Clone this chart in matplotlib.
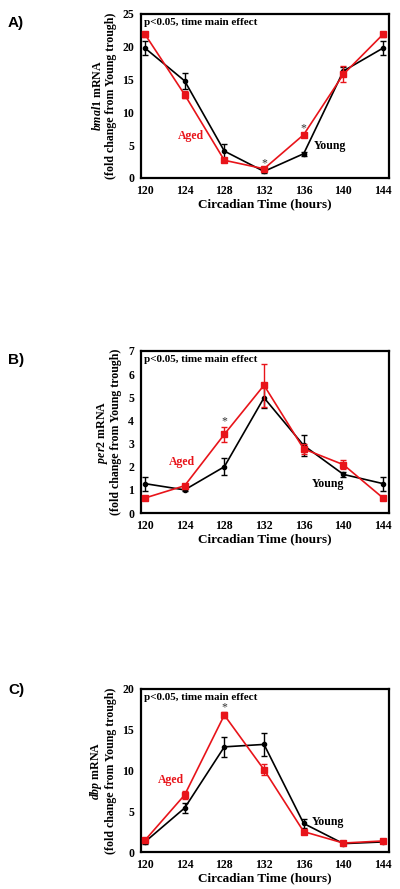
import matplotlib
matplotlib.use("Agg")
import matplotlib.pyplot as plt

plt.rcParams["mathtext.fontset"] = "custom"
plt.rcParams["mathtext.it"] = "Liberation Serif:italic:bold"
plt.rcParams["mathtext.rm"] = "Liberation Serif:bold"
plt.rcParams["mathtext.bf"] = "Liberation Serif:bold"

hours = [120, 124, 128, 132, 136, 140, 144]

bmal1_young = [19.8, 14.8, 4.1, 1.0, 3.7, 16.3, 19.8]
bmal1_young_err = [1.1, 1.2, 1.1, 0.2, 0.3, 0.6, 1.1]
bmal1_aged = [21.9, 12.7, 2.7, 1.4, 6.6, 15.8, 21.9]
bmal1_aged_err = [0.4, 0.5, 0.2, 0.2, 0.3, 1.2, 0.4]

per2_young = [1.27, 1.0, 2.0, 4.98, 2.92, 1.67, 1.27]
per2_young_err = [0.3, 0.05, 0.37, 0.45, 0.47, 0.12, 0.3]
per2_aged = [0.65, 1.18, 3.4, 5.52, 2.77, 2.09, 0.65]
per2_aged_err = [0.05, 0.07, 0.33, 0.93, 0.22, 0.2, 0.05]

dbp_young = [1.24, 5.4, 12.9, 13.2, 3.5, 1.03, 1.24]
dbp_young_err = [0.2, 0.6, 1.25, 1.45, 0.6, 0.1, 0.1]
dbp_aged = [1.44, 7.0, 16.8, 10.1, 2.5, 1.1, 1.36]
dbp_aged_err = [0.2, 0.5, 0.4, 0.7, 0.2, 0.1, 0.2]

panels = [
    dict(label="A)", gene="bmal1", young=bmal1_young, yerr=bmal1_young_err,
         aged=bmal1_aged, aerr=bmal1_aged_err, ymax=25, yticks=[0, 5, 10, 15, 20, 25],
         stars=[(132, 2.3), (136, 7.6)], aged_txt=(123.3, 6.4), young_txt=(137.0, 4.9),
         rect=[0.3525, 0.7998, 0.62, 0.1845], lab_y=0.974),
    dict(label="B)", gene="per2", young=per2_young, yerr=per2_young_err,
         aged=per2_aged, aerr=per2_aged_err, ymax=7, yticks=[0, 1, 2, 3, 4, 5, 6, 7],
         stars=[(128, 3.95)], aged_txt=(122.4, 2.2), young_txt=(136.8, 1.27),
         rect=[0.3525, 0.4229, 0.62, 0.1823], lab_y=0.595),
    dict(label="C)", gene="dbp", young=dbp_young, yerr=dbp_young_err,
         aged=dbp_aged, aerr=dbp_aged_err, ymax=20, yticks=[0, 5, 10, 15, 20],
         stars=[(128, 17.8)], aged_txt=(121.3, 8.8), young_txt=(136.8, 3.7),
         rect=[0.3525, 0.0416, 0.62, 0.1834], lab_y=0.224),
]

serif = "Liberation Serif"
fig = plt.figure(figsize=(4.0, 8.89), dpi=100)

for p in panels:
    ax = fig.add_axes(p["rect"])
    ax.errorbar(hours, p["young"], yerr=p["yerr"], color="black", marker="o",
                markersize=3, linewidth=1.2, capsize=2.5, elinewidth=1, capthick=1, zorder=3)
    ax.errorbar(hours, p["aged"], yerr=p["aerr"], color="#e8141a", marker="s",
                markersize=4, linewidth=1.2, capsize=2.5, elinewidth=1, capthick=1,
                ecolor="#e8141a", zorder=4)
    ax.set_xlim(119.6, 144.6)
    ax.set_ylim(0, p["ymax"])
    ax.set_xticks(hours)
    ax.set_yticks(p["yticks"])
    ax.tick_params(length=0, pad=5)
    for lbl in ax.get_xticklabels() + ax.get_yticklabels():
        lbl.set_fontfamily(serif)
        lbl.set_fontweight("bold")
        lbl.set_fontsize(8.5)
    for s in ax.spines.values():
        s.set_linewidth(1.6)
    ax.text(0.012, 0.975, "p<0.05, time main effect", transform=ax.transAxes,
            ha="left", va="top", fontfamily=serif, fontweight="bold", fontsize=8)
    for sx, sy in p["stars"]:
        ax.text(sx, sy, "*", ha="center", va="center", fontfamily=serif,
                fontsize=8.5, color="#333333")
    ax.text(*p["aged_txt"], "Aged", color="#e8141a", ha="left", va="center",
            fontfamily=serif, fontweight="bold", fontsize=8.5)
    ax.text(*p["young_txt"], "Young", color="black", ha="left", va="center",
            fontfamily=serif, fontweight="bold", fontsize=8.5)
    ax.set_xlabel("Circadian Time (hours)", fontfamily=serif, fontweight="bold",
                  fontsize=9.5, labelpad=1)
    ax.set_ylabel("$\\it{" + p["gene"] + "}$" + " mRNA\n(fold change from Young trough)",
                  fontfamily=serif, fontweight="bold", fontsize=8.6, labelpad=4,
                  linespacing=1.1)
    fig.text(0.02, p["lab_y"], p["label"], fontfamily="Liberation Sans",
             fontweight="bold", fontsize=11, ha="left", va="center")

fig.savefig("out.png", dpi=100)
